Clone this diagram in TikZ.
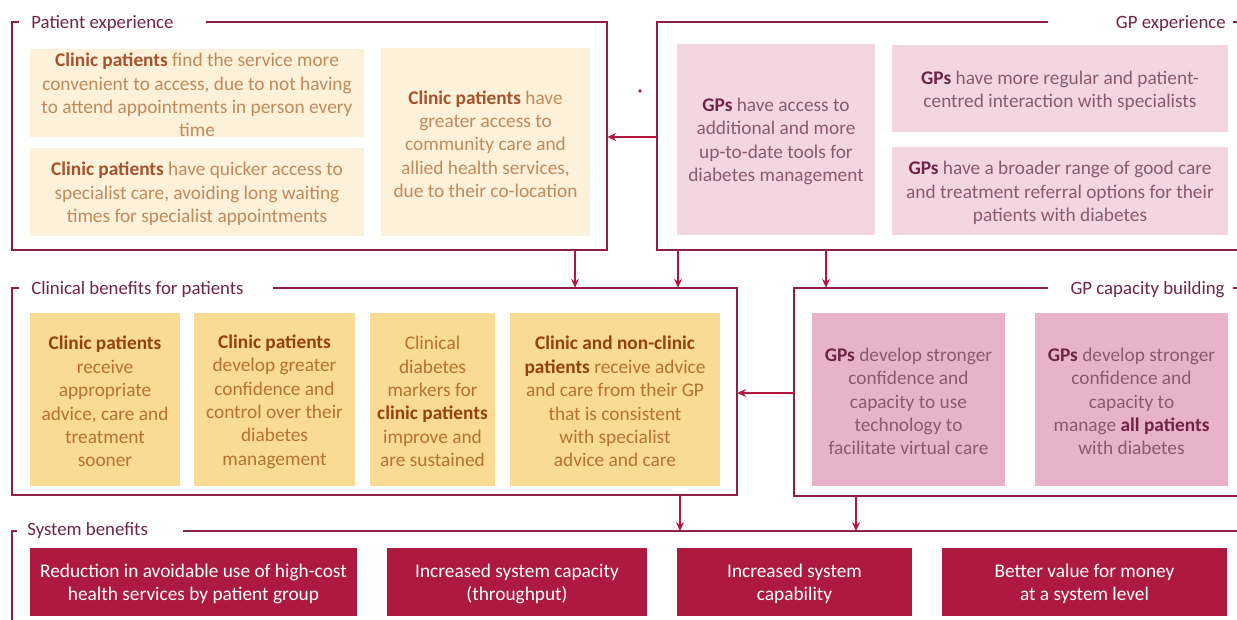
\documentclass[tikz,border=0pt]{standalone}
\usepackage{fontspec}
\setmainfont{Carlito}
\usetikzlibrary{positioning, fit, arrows.meta}

\definecolor{framered}{HTML}{8E1F45}
\definecolor{arrowred}{HTML}{B3173F}
\definecolor{titlecol}{HTML}{6E2448}
\definecolor{pefill}{HTML}{FDF1DA}
\definecolor{petext}{HTML}{C08A5A}
\definecolor{pebold}{HTML}{A5532A}
\definecolor{cbfill}{HTML}{F9DB93}
\definecolor{cbtext}{HTML}{B8722F}
\definecolor{cbbold}{HTML}{94400F}
\definecolor{gpfill}{HTML}{F4D6E1}
\definecolor{gcfill}{HTML}{E8B3CA}
\definecolor{gptext}{HTML}{8A5A70}
\definecolor{gpbold}{HTML}{6E2448}
\definecolor{sysfill}{HTML}{AE1A3F}

\newcommand{\pb}[1]{{\color{pebold}\bfseries #1}}
\newcommand{\cbb}[1]{{\color{cbbold}\bfseries #1}}
\newcommand{\gb}[1]{{\color{gpbold}\bfseries #1}}

\tikzstyle{frame} = [draw=framered, line width=1.1pt]
\tikzstyle{area} = [inner sep=0pt]
\tikzstyle{arr} = [draw=arrowred, line width=0.6pt, -{Stealth[length=5pt, width=4.5pt]}]
\tikzstyle{ttl} = [inner sep=0pt, yshift=-1pt, text=titlecol, font=\fontsize{10.7}{12}\selectfont]
\tikzstyle{box} = [inner sep=0pt]
\tikzstyle{pebox} = [box, fill=pefill]
\tikzstyle{cbbox} = [box, fill=cbfill]
\tikzstyle{gpbox} = [box, fill=gpfill]
\tikzstyle{gcbox} = [box, fill=gcfill]
\tikzstyle{sysbox} = [box, fill=sysfill]
\tikzstyle{txt} = [inner sep=0pt, align=center, yshift=-1.2pt, font=\fontsize{11}{13.3}\selectfont]
\tikzstyle{petxt} = [txt, text=petext]
\tikzstyle{cbtxt} = [txt, text=cbtext]
\tikzstyle{gptxt} = [txt, text=gptext]
\tikzstyle{systxt} = [txt, text=white]

\begin{document}
\begin{tikzpicture}[x=0.02cm, y=-0.02cm]
	\useasboundingbox (0,0) rectangle (1237,619);

	% group areas
	\node [area, fit={(12,22) (607,250)}] (peframe) {};
	\node [area, fit={(657,22) (1242,250)}] (gpframe) {};
	\node [area, fit={(12,288) (737,495)}] (cbframe) {};
	\node [area, fit={(794,288) (1242,496)}] (gcframe) {};
	\coordinate (sysline) at (0,531);

	\draw [frame] (19,22) -| (12,250) -| (607,22) -- (206,22);
	\draw [frame] (1048,22) -| (657,250) -| (1242,22) -- (1233,22);
	\draw [frame] (19,288) -| (12,495) -| (737,288) -- (273,288);
	\draw [frame] (1048,288) -| (794,496) -| (1242,288) -- (1233,288);
	\draw [frame] (17,531) -| (12,625);
	\draw [frame] (183,531) -- (1242,531);

	\node [ttl, anchor=west] (pet) at (31,22) {Patient experience};
	\node [ttl, anchor=east] (gpt) at (1226,22) {GP experience};
	\node [ttl, anchor=west] (cbt) at (31,288) {Clinical benefits for patients};
	\node [ttl, anchor=east] (gct) at (1225,288) {GP capacity building};
	\node [ttl, anchor=west] (syst) at (27,529) {System benefits};

	% patient experience
	\node [pebox, fit={(30,49) (364,137)}] (pe1) {};
	\node [pebox, fit={(30,148) (364,236)}] (pe2) {};
	\node [pebox, fit={(381,48) (590,236)}] (pe3) {};
	\node [petxt] (pe1t) at (pe1) {\pb{Clinic patients} find the service more\\convenient to access, due to not having\\to attend appointments in person every\\time};
	\node [petxt] (pe2t) at (pe2) {\pb{Clinic patients} have quicker access to\\specialist care, avoiding long waiting\\times for specialist appointments};
	\node [petxt] (pe3t) at (pe3) {\pb{Clinic patients} have\\greater access to\\community care and\\allied health services,\\due to their co-location};

	% GP experience
	\node [gpbox, fit={(677,44) (875,235)}] (gpa) {};
	\node [gpbox, fit={(892,45) (1228,132)}] (gpb) {};
	\node [gpbox, fit={(892,147) (1228,235)}] (gpc) {};
	\node [gptxt] (gpat) at (gpa) {\gb{GPs} have access to\\additional and more\\up-to-date tools for\\diabetes management};
	\node [gptxt] (gpbt) at (gpb) {\gb{GPs} have more regular and patient-\\centred interaction with specialists};
	\node [gptxt] (gpct) at (gpc) {\gb{GPs} have a broader range of good care\\and treatment referral options for their\\patients with diabetes};

	% clinical benefits
	\node [cbbox, fit={(30,313) (180,486)}] (cb1) {};
	\node [cbbox, fit={(194,313) (355,486)}] (cb2) {};
	\node [cbbox, fit={(370,313) (495,486)}] (cb3) {};
	\node [cbbox, fit={(510,313) (720,486)}] (cb4) {};
	\node [cbtxt] (cb1t) at (cb1) {\cbb{Clinic patients}\\receive\\appropriate\\advice, care and\\treatment\\sooner};
	\node [cbtxt] (cb2t) at (cb2) {\cbb{Clinic patients}\\develop greater\\confidence and\\control over their\\diabetes\\management};
	\node [cbtxt] (cb3t) at (cb3) {Clinical\\diabetes\\markers for\\\cbb{clinic patients}\\improve and\\are sustained};
	\node [cbtxt] (cb4t) at (cb4) {\cbb{Clinic and non-clinic}\\\cbb{patients} receive advice\\and care from their GP\\that is consistent\\with specialist\\advice and care};

	% GP capacity
	\node [gcbox, fit={(812,313) (1005,486)}] (gc1) {};
	\node [gcbox, fit={(1035,313) (1228,486)}] (gc2) {};
	\node [gptxt] (gc1t) at (gc1) {\gb{GPs} develop stronger\\confidence and\\capacity to use\\technology to\\facilitate virtual care};
	\node [gptxt] (gc2t) at (gc2) {\gb{GPs} develop stronger\\confidence and\\capacity to\\manage \gb{all patients}\\with diabetes};

	% system benefits
	\node [sysbox, fit={(30,548) (357,616)}] (sys1) {};
	\node [sysbox, fit={(387,548) (647,616)}] (sys2) {};
	\node [sysbox, fit={(677,548) (912,616)}] (sys3) {};
	\node [sysbox, fit={(942,548) (1227,616)}] (sys4) {};
	\node [systxt] (sys1t) at (sys1) {Reduction in avoidable use of high-cost\\health services by patient group};
	\node [systxt] (sys2t) at (sys2) {Increased system capacity\\(throughput)};
	\node [systxt] (sys3t) at (sys3) {Increased system\\capability};
	\node [systxt] (sys4t) at (sys4) {Better value for money\\at a system level};

	% links between groups
	\coordinate (d1) at (575,0);
	\coordinate (d2) at (678,0);
	\coordinate (d3) at (826,0);
	\coordinate (d4) at (680,0);
	\coordinate (d5) at (856,0);
	\coordinate (h1) at (0,137);
	\coordinate (h2) at (0,393);
	\path [arr] (gpframe.west |- h1) -- (peframe.east |- h1);
	\path [arr] (gcframe.west |- h2) -- (cbframe.east |- h2);
	\path [arr] (peframe.south -| d1) -- (cbframe.north -| d1);
	\path [arr] (gpframe.south -| d2) -- (cbframe.north -| d2);
	\path [arr] (gpframe.south -| d3) -- (gcframe.north -| d3);
	\path [arr] (cbframe.south -| d4) -- (sysline -| d4);
	\path [arr] (gcframe.south -| d5) -- (sysline -| d5);

	\fill [arrowred] (640,91) circle (1.8);
\end{tikzpicture}
\end{document}
